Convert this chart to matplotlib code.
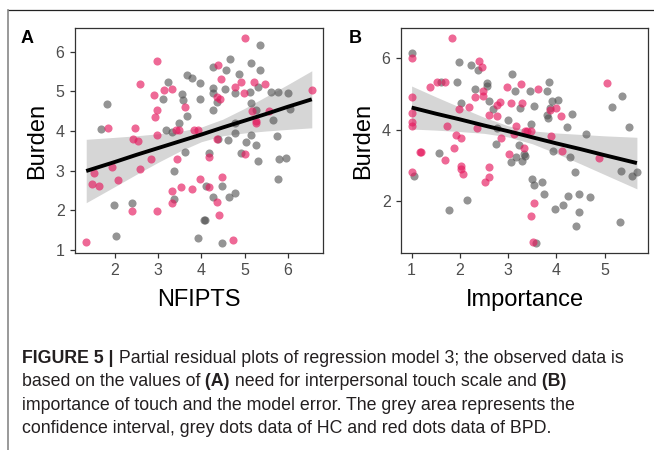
import matplotlib
matplotlib.use("Agg")
import matplotlib.pyplot as plt
import numpy as np
from matplotlib.lines import Line2D

plt.rcParams['font.family'] = ['Liberation Sans', 'DejaVu Sans']

# ---- panel A: NFIPTS ----
a_bpd_x = [1.33, 5.02, 2.97, 2.57, 2.91, 3.14, 3.33, 2.97, 2.93, 2.97,
           3.61, 4.38, 4.46, 4.36, 4.44, 4.79, 4.92, 4.98, 5.21, 5.48,
           5.17, 5.27, 5.27, 5.56, 6.56, 1.83, 2.47, 2.42, 2.52, 1.52,
           1.47, 1.62, 1.93, 2.06, 2.57, 2.83, 3.42, 3.48, 3.82, 3.92,
           3.43, 4.37, 4.17, 5.02, 3.97, 4.17, 4.47, 3.53, 3.78, 3.32,
           3.32, 4.37, 4.42, 2.38, 2.97, 4.73]
a_bpd_y = [1.19, 6.34, 5.77, 5.19, 4.92, 5.04, 5.07, 4.52, 4.36, 3.89,
           4.61, 5.66, 5.30, 4.85, 4.81, 5.12, 5.23, 4.95, 5.24, 5.19,
           4.50, 4.25, 4.19, 4.50, 5.03, 4.07, 4.08, 3.79, 3.76, 2.94,
           2.65, 2.61, 3.08, 2.76, 3.05, 3.29, 4.03, 4.03, 4.03, 4.03,
           3.29, 3.79, 3.35, 3.43, 2.78, 2.58, 2.84, 2.58, 2.54, 2.48,
           2.19, 2.22, 1.87, 1.98, 1.98, 1.25]
a_hc_x = [5.36, 4.66, 4.28, 5.16, 5.37, 4.56, 3.66, 3.78, 3.23, 3.97,
          4.87, 4.28, 4.55, 4.28, 4.77, 5.12, 5.62, 5.77, 6.02, 5.31,
          3.55, 3.57, 3.11, 3.97, 1.82, 4.37, 5.14, 5.27, 4.28, 6.06,
          3.67, 3.47, 1.68, 3.17, 3.33, 5.67, 4.77, 4.77, 4.39, 4.61,
          5.14, 5.76, 5.04, 5.27, 4.91, 4.17, 3.63, 5.81, 5.97, 5.32,
          3.37, 5.77, 4.10, 4.48, 4.28, 4.77, 4.65, 3.36, 1.98, 2.38,
          4.06, 4.08, 2.02, 3.93, 4.47]
a_hc_y = [6.17, 5.81, 5.62, 5.72, 5.55, 5.53, 5.41, 5.35, 5.24, 5.20,
          5.45, 5.08, 5.07, 4.97, 4.97, 4.98, 4.99, 4.99, 4.96, 5.10,
          4.94, 4.78, 4.82, 4.80, 4.67, 4.74, 4.70, 4.53, 4.53, 4.55,
          4.39, 4.19, 4.04, 4.03, 3.97, 4.28, 4.19, 3.96, 3.79, 3.77,
          3.90, 3.87, 3.73, 3.64, 3.44, 3.44, 3.46, 3.29, 3.32, 3.23,
          3.00, 2.78, 2.61, 2.61, 2.34, 2.43, 2.34, 2.29, 2.14, 2.17,
          1.75, 1.75, 1.34, 1.29, 1.17]
a_fit_x = [1.33, 2.0, 2.5, 3.0, 3.5, 4.0, 4.5, 5.0, 5.5, 6.0, 6.56]
a_fit_y = [2.99, 3.22, 3.40, 3.57, 3.74, 3.91, 4.09, 4.26, 4.43, 4.61, 4.80]
a_ci_lo = [2.19, 2.60, 2.91, 3.21, 3.49, 3.73, 3.88, 3.95, 4.00, 4.04, 4.08]
a_ci_hi = [3.79, 3.84, 3.88, 3.93, 3.99, 4.10, 4.30, 4.57, 4.87, 5.17, 5.52]

# ---- panel B: Importance ----
b_bpd_x = [1.83, 1.0, 2.40, 2.45, 1.38, 1.52, 1.70, 1.0, 2.47, 2.47,
           2.31, 2.97, 3.26, 3.62, 5.06, 1.0, 1.0, 1.0, 1.98, 2.19,
           1.74, 2.36, 2.61, 2.77, 2.78, 2.84, 3.07, 3.28, 3.16, 3.12,
           2.86, 3.34, 3.39, 3.48, 3.33, 3.02, 3.87, 3.99, 4.10, 3.88,
           4.12, 4.88, 1.91, 2.03, 1.88, 1.17, 1.19, 1.70, 2.02, 2.03,
           2.06, 2.60, 2.60, 2.52, 1.0, 3.54, 3.47, 3.52]
b_bpd_y = [6.56, 6.0, 5.91, 5.75, 5.18, 5.34, 5.34, 4.92, 5.09, 4.95,
           4.92, 5.18, 5.28, 5.13, 5.31, 4.48, 4.23, 4.11, 4.58, 4.63,
           4.11, 4.05, 4.41, 4.38, 4.69, 4.77, 4.76, 4.75, 4.11, 3.89,
           3.76, 3.97, 3.97, 3.97, 3.48, 3.32, 4.56, 4.61, 4.38, 3.83,
           3.42, 3.21, 3.86, 3.77, 3.49, 3.37, 3.37, 3.16, 2.98, 2.90,
           2.76, 2.97, 2.67, 2.53, 2.82, 1.95, 1.60, 0.87]
b_hc_x = [1.0, 1.98, 2.23, 2.37, 1.95, 1.61, 2.57, 2.57, 2.31, 3.09,
          3.14, 3.46, 3.84, 3.81, 2.61, 2.03, 2.69, 3.24, 3.53, 3.90,
          4.03, 3.86, 3.81, 3.83, 4.32, 2.99, 2.76, 3.48, 4.23, 5.16,
          5.37, 5.50, 4.61, 2.74, 3.23, 3.94, 3.33, 3.16, 3.07, 3.28,
          3.34, 4.28, 1.57, 1.05, 4.38, 5.35, 5.57, 5.67, 3.50, 3.54,
          3.70, 3.75, 4.24, 4.47, 4.69, 4.14, 3.97, 4.47, 4.41, 5.32,
          2.14, 1.77, 3.58]
b_hc_y = [6.13, 5.90, 5.80, 5.67, 5.32, 5.34, 5.30, 5.21, 5.14, 5.55,
          5.07, 5.09, 5.32, 5.09, 4.79, 4.74, 4.58, 4.62, 4.65, 4.79,
          4.84, 4.60, 4.42, 4.34, 4.44, 4.28, 4.05, 4.16, 4.07, 4.63,
          4.95, 4.07, 3.88, 3.61, 3.57, 3.42, 3.32, 3.23, 3.11, 3.12,
          3.27, 3.23, 3.35, 2.71, 2.82, 2.84, 2.70, 2.83, 2.62, 2.45,
          2.53, 2.21, 2.14, 2.20, 2.11, 1.91, 1.80, 1.70, 1.30, 1.42,
          2.05, 1.77, 0.85]
b_fit_x = [1.0, 1.5, 2.0, 2.5, 3.0, 3.5, 4.0, 4.5, 5.0, 5.67]
b_fit_y = [4.62, 4.45, 4.29, 4.12, 3.96, 3.79, 3.62, 3.46, 3.29, 3.07]
b_ci_lo = [4.02, 3.99, 3.95, 3.90, 3.80, 3.61, 3.34, 3.05, 2.75, 2.35]
b_ci_hi = [5.22, 4.92, 4.63, 4.35, 4.11, 3.97, 3.91, 3.87, 3.83, 3.79]

RED = '#E5195E'
GREY = '#4D4D4D'

fig = plt.figure(figsize=(6.54, 4.5), dpi=100)


def panel(rect, hx, hy, rx, ry, fx, fy, lo, hi, xlim, ylim, xticks, yticks, xlab):
    ax = fig.add_axes(rect)
    ax.fill_between(fx, lo, hi, color='#D6D6D6', lw=0, zorder=1)
    ax.scatter(hx, hy, s=34, color=GREY, alpha=0.6, lw=0, zorder=2)
    ax.scatter(rx, ry, s=34, color=RED, alpha=0.65, lw=0, zorder=3)
    ax.plot(fx, fy, color='black', lw=2.8, solid_capstyle='butt', zorder=4)
    ax.set_xlim(*xlim)
    ax.set_ylim(*ylim)
    ax.set_xticks(xticks)
    ax.set_yticks(yticks)
    for sp in ax.spines.values():
        sp.set_color('#333333')
        sp.set_linewidth(0.9)
    ax.tick_params(direction='out', length=3.5, width=0.9, color='#333333',
                   labelsize=11.5, labelcolor='#4D4D4D', pad=4)
    ax.set_xlabel(xlab, fontsize=17, color='black')
    ax.set_ylabel('Burden', fontsize=17, color='black')
    ax.xaxis.set_label_coords(0.5, -0.158)
    ax.yaxis.set_label_coords(-0.11, 0.5)
    return ax


axA = panel([75 / 654, 1 - 253 / 450, 248 / 654, 225 / 450],
            a_hc_x, a_hc_y, a_bpd_x, a_bpd_y, a_fit_x, a_fit_y, a_ci_lo, a_ci_hi,
            (1.07, 6.82), (0.92, 6.6), [2, 3, 4, 5, 6], [1, 2, 3, 4, 5, 6], 'NFIPTS')
axB = panel([401 / 654, 1 - 253 / 450, 247 / 654, 225 / 450],
            b_hc_x, b_hc_y, b_bpd_x, b_bpd_y, b_fit_x, b_fit_y, b_ci_lo, b_ci_hi,
            (0.78, 5.90), (0.56, 6.84), [1, 2, 3, 4, 5], [2, 4, 6], 'Importance')

fig.text(21 / 654, 1 - 43 / 450, 'A', fontsize=13, fontweight='bold')
fig.text(349 / 654, 1 - 43 / 450, 'B', fontsize=13, fontweight='bold')

# frame lines
fig.add_artist(Line2D([7.5 / 654, 1], [1 - 10 / 450, 1 - 10 / 450], color='#222222', lw=0.9))
fig.add_artist(Line2D([7.5 / 654, 7.5 / 654], [0, 1 - 10 / 450], color='#888888', lw=1.2))

# caption with mixed bold / regular pieces
caption = [
    [('FIGURE 5 |', 'bold'), (' Partial residual plots of regression model 3; the observed data is', 'normal')],
    [('based on the values of', 'normal'), (' (A)', 'bold'), (' need for interpersonal touch scale and', 'normal'), (' (B)', 'bold')],
    [('importance of touch and the model error. The grey area represents the', 'normal')],
    [('confidence interval, grey dots data of HC and red dots data of BPD.', 'normal')],
]
cap_size = 12.8
renderer = fig.canvas.get_renderer()
for i, line in enumerate(caption):
    x = 22
    y = 363 + i * 23.3
    for s, w in line:
        t = fig.text(x / 654, 1 - y / 450, s, fontsize=cap_size, fontweight=w,
                     color='#231F20', va='baseline')
        bb = t.get_window_extent(renderer)
        x = bb.x1

fig.savefig('out.png', dpi=100)
